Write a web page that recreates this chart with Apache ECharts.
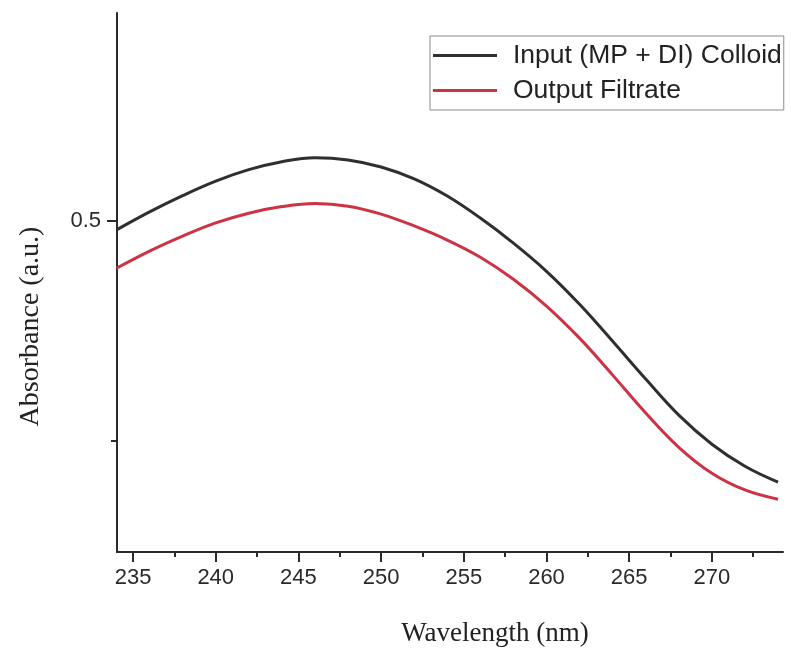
<!DOCTYPE html>
<html>
<head>
<meta charset="utf-8">
<script src="https://cdn.jsdelivr.net/npm/echarts@6/dist/echarts.min.js"></script>
<style>
html,body{margin:0;padding:0;background:#fff;}
#chart{width:791px;height:654px;}
</style>
</head>
<body>
<div id="chart"></div>
<script>
const wavelength = [234,236,238,240,242,244,246,248,250,252,254,256,258,260,262,264,266,268,270,272,274];
const inputColloid = [0.4980,0.5021,0.5058,0.5091,0.5117,0.5135,0.5144,0.5139,0.5123,0.5096,0.5057,0.5007,0.4950,0.4886,0.4811,0.4727,0.4641,0.4559,0.4493,0.4443,0.4407];
const outputFiltrate = [0.4893,0.4932,0.4966,0.4996,0.5018,0.5033,0.5040,0.5034,0.5016,0.4989,0.4957,0.4918,0.4868,0.4807,0.4734,0.4650,0.4564,0.4486,0.4427,0.4389,0.4368];
const xMajorTicks = [235,240,245,250,255,260,265,270];
const xMinorTicks = [237.5,242.5,247.5,252.5,257.5,262.5,267.5,272.5];
const yMajorTicks = [0.5];
const yMinorTicks = [0.45];
const seriesNames = ['Input (MP + DI) Colloid','Output Filtrate'];

const X_MIN = 234.03, X_MAX = 274.3, Y_MIN = 0.4248, Y_MAX = 0.5473;
const axisColor = '#2a2a2a';

const chart = echarts.init(document.getElementById('chart'), null, {renderer:'canvas'});
chart.setOption({
  backgroundColor:'#ffffff',
  animation:false,
  grid:{left:117, right:8, top:13, bottom:102, containLabel:false},
  legend:{
    orient:'vertical', left:430, top:36,
    data:seriesNames,
    icon:'rect',
    itemWidth:64, itemHeight:3, itemGap:8,
    padding:[6,2,6,3],
    borderColor:'#8a8a8a', borderWidth:1,
    textStyle:{fontFamily:'Liberation Sans, Arial, sans-serif', fontSize:26.5, color:'#222', padding:[0,0,0,11]}
  },
  xAxis:[
    {
      type:'value', min:X_MIN, max:X_MAX, position:'bottom',
      name:'Wavelength (nm)', nameLocation:'middle', nameGap:68,
      nameTextStyle:{fontFamily:'Liberation Serif, Times New Roman, serif', fontSize:27, color:'#222', padding:[0,0,0,90]},
      axisLine:{show:true, lineStyle:{color:axisColor, width:2}},
      axisTick:{show:true, customValues:xMajorTicks, length:10, lineStyle:{color:axisColor, width:2}},
      axisLabel:{show:true, customValues:xMajorTicks, fontFamily:'Liberation Sans, Arial, sans-serif', fontSize:22, color:'#2a2a2a', margin:15},
      splitLine:{show:false}
    },
    {
      type:'value', min:X_MIN, max:X_MAX, position:'bottom',
      axisLine:{show:false},
      axisTick:{show:true, customValues:xMinorTicks, length:5, lineStyle:{color:axisColor, width:2}},
      axisLabel:{show:false},
      splitLine:{show:false}
    }
  ],
  yAxis:[
    {
      type:'value', min:Y_MIN, max:Y_MAX, position:'left',
      name:'Absorbance (a.u.)', nameLocation:'middle', nameGap:72,
      nameTextStyle:{fontFamily:'Liberation Serif, Times New Roman, serif', fontSize:28, color:'#222', padding:[0,88,0,0]},
      axisLine:{show:true, lineStyle:{color:axisColor, width:2}},
      axisTick:{show:true, customValues:yMajorTicks, length:10, lineStyle:{color:axisColor, width:2}},
      axisLabel:{show:true, customValues:yMajorTicks, formatter:v=>Number(v).toFixed(1), fontFamily:'Liberation Sans, Arial, sans-serif', fontSize:22, color:'#2a2a2a', margin:16},
      splitLine:{show:false}
    },
    {
      type:'value', min:Y_MIN, max:Y_MAX, position:'left',
      axisLine:{show:false},
      axisTick:{show:true, customValues:yMinorTicks, length:6, lineStyle:{color:axisColor, width:2}},
      axisLabel:{show:false},
      splitLine:{show:false}
    }
  ],
  series:[
    {
      name:seriesNames[0], type:'line', xAxisIndex:0, yAxisIndex:0,
      smooth:0.4, symbol:'none',
      data:wavelength.map((w,i)=>[w,inputColloid[i]]),
      lineStyle:{color:'#2f2f2f', width:3},
      itemStyle:{color:'#2f2f2f'}
    },
    {
      name:seriesNames[1], type:'line', xAxisIndex:0, yAxisIndex:0,
      smooth:0.4, symbol:'none',
      data:wavelength.map((w,i)=>[w,outputFiltrate[i]]),
      lineStyle:{color:'#cc3344', width:3},
      itemStyle:{color:'#cc3344'}
    }
  ]
});
</script>
</body>
</html>
